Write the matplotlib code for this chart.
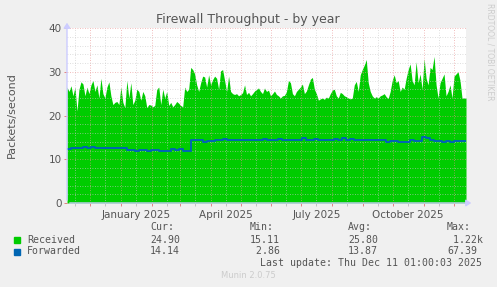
import numpy as np
import matplotlib
matplotlib.use('Agg')
import matplotlib.pyplot as plt
import matplotlib.dates as mdates
from matplotlib.ticker import FixedLocator, FuncFormatter
import datetime as dt

# Munin yearly graph, 400 days ending Dec 11 2025
start = dt.date(2024, 11, 8)
n_days = 400

# Received packets/s, one value per 2 days
received = [
    26.5, 25.5, 26.8, 24.5, 26.5, 21.0, 26.0, 27.7, 27.2, 24.5,
    26.5, 25.0, 27.0, 28.0, 25.5, 27.0, 24.0, 28.5, 25.0, 24.0,
    26.5, 27.7, 24.5, 22.5, 23.0, 23.2, 22.5, 26.5, 23.0, 21.8,
    28.0, 24.0, 27.5, 22.5, 23.5, 26.0, 25.5, 23.5, 25.5, 24.5,
    21.8, 22.5, 22.4, 22.0, 22.3, 26.0, 26.5, 22.5, 26.0, 24.0,
    25.5, 22.3, 23.0, 22.0, 22.5, 23.2, 22.8, 22.3, 22.0, 26.5,
    25.5, 26.0, 31.0, 30.5, 29.5, 27.0, 25.5, 27.5, 29.0, 28.8,
    26.5, 29.3, 27.0, 28.2, 29.0, 28.5, 26.0, 30.2, 30.5, 28.0,
    25.5, 29.0, 25.5, 25.0, 24.8, 25.0, 24.5, 24.8, 25.2, 27.0,
    24.8, 25.3, 24.5, 25.0, 25.6, 26.0, 26.3, 25.5, 25.0, 26.3,
    25.5, 25.8, 24.5, 25.0, 25.6, 24.8, 24.5, 24.0, 24.5, 24.6,
    25.5, 28.0, 27.5, 25.0, 24.5, 25.5, 26.0, 26.5, 27.2, 25.0,
    25.6, 27.0, 28.3, 28.7, 26.0, 25.0, 23.5, 23.8, 24.0, 23.7,
    24.2, 24.0, 25.0, 25.8, 26.0, 24.5, 24.0, 25.3, 25.0, 24.5,
    24.3, 24.0, 23.8, 24.0, 27.0, 27.8, 25.5, 29.3, 30.5, 31.5,
    32.8, 27.5, 25.5, 24.5, 24.0, 24.3, 24.0, 24.5, 24.7, 25.0,
    24.3, 23.9, 25.5, 28.0, 29.3, 27.5, 28.0, 25.5, 26.5, 26.0,
    28.5, 30.5, 31.8, 28.0, 27.0, 32.3, 27.5, 29.5, 26.0, 33.0,
    28.5, 27.0, 31.0, 30.5, 33.5, 27.0, 24.0, 27.5, 28.5, 29.5,
    24.5, 25.5, 27.0, 24.0, 29.0, 29.5, 30.0, 28.0, 24.0, 24.0,
]

# Forwarded packets/s, one value per 4 days
forwarded = [
    12.4, 12.6, 12.6, 12.5, 12.7, 12.6, 12.7, 12.6, 12.6, 12.5,
    12.6, 12.5, 12.6, 12.5, 12.5, 12.1, 12.2, 12.0, 12.1, 12.2,
    12.0, 12.1, 12.2, 12.0, 11.8, 12.0, 12.4, 12.1, 12.3, 11.8,
    12.0, 14.4, 14.5, 14.3, 13.9, 14.1, 14.2, 14.3, 14.4, 14.6,
    14.4, 14.3, 14.5, 14.4, 14.3, 14.5, 14.4, 14.5, 14.4, 14.6,
    14.4, 14.5, 14.4, 14.7, 14.5, 14.4, 14.5, 14.4, 14.3, 14.9,
    14.5, 14.4, 14.6, 14.4, 14.5, 14.3, 14.4, 14.6, 14.4, 14.9,
    14.4, 14.7, 14.3, 14.5, 14.4, 14.4, 14.5, 14.3, 14.4, 14.4,
    13.9, 14.1, 14.1, 14.0, 14.0, 14.0, 14.3, 14.1, 14.2, 15.0,
    14.9, 14.3, 14.1, 14.1, 14.0, 14.1, 13.9, 14.1, 14.2, 14.1,
]

series_names = ['Received', 'Forwarded']
series_colors = ['#00CC00', '#0066B3']
cur_vals = ['24.90', '14.14']
min_vals = ['15.11', ' 2.86']
avg_vals = ['25.80', '13.87']
max_vals = [' 1.22k', '67.39']

W, H = 497, 287
fig = plt.figure(figsize=(W / 100, H / 100), dpi=100, facecolor='#F0F0F0')


def fx(px):
    return px / W


def fy(py):
    return 1 - py / H


x0, x1, ytop, ybot = 67, 466, 28, 203
ax = fig.add_axes([fx(x0), fy(ybot), fx(x1) - fx(x0), fy(ytop) - fy(ybot)])
ax.set_facecolor('white')

t0 = mdates.date2num(start)
xr = t0 + 2 * np.arange(len(received))
xf = t0 + 4 * np.arange(len(forwarded))
xr = np.append(xr, t0 + n_days)
xf = np.append(xf, t0 + n_days)
recv = np.append(received, received[-1])
fwd = np.append(forwarded, forwarded[-1])

ax.fill_between(xr, 0, recv, color=series_colors[0], lw=0, zorder=1)
ax.step(xf, fwd, where='post', color=series_colors[1], lw=1.4, zorder=3)

ax.set_xlim(t0, t0 + n_days)
ax.set_ylim(0, 40)

# grid: red at month starts / every 10, grey at mid-month / every 2
months = [dt.date(2024, 12, 1)]
while months[-1] < dt.date(2025, 12, 1):
    m = months[-1]
    months.append(dt.date(m.year + (m.month // 12), m.month % 12 + 1, 1))
mids = [dt.date(2024, 11, 16)] + [dt.date(m.year, m.month, 16) for m in months]
ax.xaxis.set_major_locator(FixedLocator(mdates.date2num(months)))
ax.xaxis.set_minor_locator(FixedLocator(mdates.date2num(mids)))
ax.xaxis.set_major_formatter(FuncFormatter(lambda v, p: ''))


def qlabel(v, p):
    d = mdates.num2date(v)
    if d.month in (1, 4, 7, 10):
        return d.strftime('%B %Y')
    return ''


ax.xaxis.set_minor_formatter(FuncFormatter(qlabel))
ax.set_yticks([0, 10, 20, 30, 40])
ax.set_yticks(np.arange(0, 41, 2), minor=True)

ax.grid(which='minor', color='#C8C8C8', linestyle=(0, (1, 2)), lw=0.6, alpha=0.8)
ax.grid(which='major', color='#E89090', linestyle=(0, (1, 2)), lw=0.6, alpha=0.8)
ax.set_axisbelow(False)

ax.tick_params(axis='both', which='both', colors='#555555', labelsize=7.5, length=2, width=0.6)
ax.tick_params(axis='x', which='minor', pad=3, length=2, color='#BBBBBB')
ax.tick_params(axis='x', which='major', color='#E07070')
ax.tick_params(axis='y', which='minor', length=0)
ax.tick_params(axis='y', which='major', color='#E07070', pad=2)
for s in ax.spines.values():
    s.set_visible(False)

# axis arrows
fig.add_artist(matplotlib.patches.FancyArrowPatch(
    (fx(x0), fy(ybot)), (fx(x0), fy(20)), transform=fig.transFigure,
    arrowstyle='-|>,head_length=3,head_width=2', color='#CCCCFF', lw=1, mutation_scale=1))
fig.add_artist(matplotlib.patches.FancyArrowPatch(
    (fx(x0), fy(ybot)), (fx(474), fy(ybot)), transform=fig.transFigure,
    arrowstyle='-|>,head_length=3,head_width=2', color='#CCCCFF', lw=1, mutation_scale=1))

fig.text(fx(248), fy(19), 'Firewall Throughput - by year', ha='center', va='center',
         fontsize=9, color='#555555')
fig.text(fx(12), fy(115), 'Packets/second', ha='center', va='center', rotation=90,
         fontsize=8, color='#555555')
fig.text(fx(490), fy(52), 'RRDTOOL / TOBI OETIKER', ha='center', va='center', rotation=270,
         fontsize=5.5, color='#CCCCCC')

mono = dict(family='DejaVu Sans Mono', fontsize=7.1, color='#555555', va='center')
fig.text(fx(150), fy(227), 'Cur:', ha='left', **mono)
fig.text(fx(250), fy(227), 'Min:', ha='left', **mono)
fig.text(fx(348), fy(227), 'Avg:', ha='left', **mono)
fig.text(fx(447), fy(227), 'Max:', ha='left', **mono)
rows = [240, 251.5]
for i in range(2):
    y = fy(rows[i])
    fig.add_artist(matplotlib.patches.Rectangle((fx(14), fy(rows[i] + 3)), fx(6), fy(0) - fy(6),
                                                transform=fig.transFigure, color=series_colors[i]))
    fig.text(fx(27), y, series_names[i], ha='left', **mono)
    fig.text(fx(150), y, cur_vals[i], ha='left', **mono)
    fig.text(fx(250), y, min_vals[i], ha='left', **mono)
    fig.text(fx(348), y, avg_vals[i], ha='left', **mono)
    fig.text(fx(447), y, max_vals[i], ha='left', **mono)
fig.text(fx(482), fy(263), 'Last update: Thu Dec 11 01:00:03 2025', ha='right', **mono)
fig.text(fx(248), fy(276), 'Munin 2.0.75', ha='center', va='center', fontsize=6,
         color='#CCCCCC')

fig.savefig('out.png', dpi=100, facecolor=fig.get_facecolor())
